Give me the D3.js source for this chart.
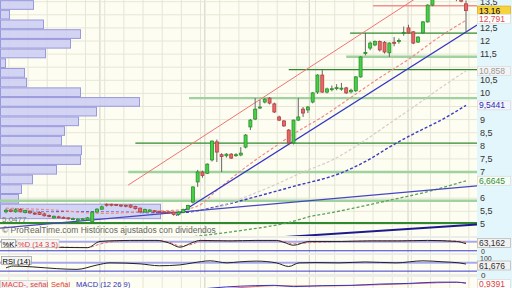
<!DOCTYPE html>
<html><head><meta charset="utf-8">
<script src="https://cdn.jsdelivr.net/npm/d3@7/dist/d3.min.js"></script>
<style>
body{margin:0;background:#fff;}
svg{display:block;font-family:"Liberation Sans",Arial,sans-serif;}
</style></head><body>
<div id="chart"></div>
<script>
// daily candles, oldest first: [open, high, low, close]
const candles = [
  [5.48,5.60,5.42,5.54],[5.55,5.60,5.46,5.49],[5.48,5.62,5.45,5.56],[5.57,5.62,5.46,5.48],
  [5.45,5.56,5.42,5.53],[5.50,5.54,5.40,5.44],[5.43,5.48,5.36,5.40],[5.46,5.50,5.36,5.38],
  [5.40,5.45,5.30,5.33],[5.34,5.38,5.27,5.30],[5.25,5.34,5.22,5.31],[5.29,5.33,5.24,5.27],
  [5.27,5.30,5.22,5.26],[5.25,5.28,5.18,5.23],[5.20,5.26,5.16,5.22],[5.15,5.23,5.12,5.20],
  [5.17,5.24,5.14,5.21],[5.17,5.28,5.14,5.25],[5.10,5.50,5.08,5.47],[5.47,5.62,5.45,5.58],
  [5.58,5.72,5.56,5.67],[5.77,5.80,5.68,5.74],[5.77,5.79,5.69,5.74],[5.76,5.78,5.70,5.73],
  [5.74,5.76,5.66,5.71],[5.73,5.75,5.65,5.70],[5.74,5.76,5.62,5.66],[5.68,5.71,5.57,5.60],
  [5.62,5.64,5.42,5.48],[5.47,5.60,5.45,5.57],[5.50,5.58,5.47,5.55],[5.52,5.55,5.45,5.49],
  [5.49,5.52,5.44,5.47],[5.48,5.51,5.43,5.46],[5.48,5.50,5.41,5.44],[5.47,5.49,5.33,5.38],
  [5.38,5.50,5.33,5.47],[5.45,5.60,5.43,5.57],[5.58,5.75,5.55,5.72],[5.85,6.45,5.80,6.43],
  [6.62,7.08,6.43,7.00],[7.00,7.05,6.78,6.87],[6.95,7.33,6.92,7.30],[7.46,8.20,7.40,8.18],
  [8.15,8.24,7.38,7.76],[7.66,7.72,7.00,7.59],[7.62,7.72,7.55,7.68],[7.68,7.72,7.50,7.53],
  [7.64,7.72,7.58,7.66],[7.65,7.95,7.60,7.72],[7.95,8.45,7.90,8.41],[8.72,9.02,8.60,8.98],
  [9.02,9.82,8.98,9.40],[9.46,9.75,9.40,9.48],[9.67,9.82,9.62,9.78],[9.82,9.86,9.58,9.63],
  [9.60,9.65,9.25,9.29],[9.10,9.15,8.94,8.98],[8.95,8.98,8.72,8.76],[8.60,8.64,8.05,8.11],
  [8.11,9.00,8.05,8.98],[8.98,9.82,8.95,9.10],[9.40,9.48,9.10,9.25],[9.37,9.52,9.25,9.48],
  [9.67,10.05,9.62,10.02],[10.05,10.73,9.98,10.70],[10.70,10.89,10.02,10.05],[10.05,10.22,10.00,10.17],
  [10.17,10.30,10.08,10.18],[10.20,10.35,10.12,10.22],[10.18,10.40,10.10,10.20],[10.21,10.25,9.98,10.02],
  [10.06,10.18,10.00,10.12],[10.10,10.66,10.05,10.63],[10.63,11.42,10.60,11.39],[11.52,12.31,11.45,11.56],
  [11.73,11.98,11.65,11.92],[11.85,12.02,11.80,11.98],[11.98,12.02,11.60,11.66],[11.95,12.00,11.52,11.58],
  [11.55,11.95,11.39,11.92],[11.95,12.15,11.80,11.93],[11.98,12.10,11.90,12.02],[12.30,12.55,12.20,12.33],
  [12.50,12.62,12.28,12.31],[12.35,12.38,11.88,11.92],[11.96,12.18,11.92,12.15],[12.31,12.76,12.28,12.73],
  [12.73,13.40,12.70,13.37],[13.37,13.70,13.33,13.65],[13.65,13.80,13.58,13.75],[13.75,13.85,13.62,13.80],
  [13.80,13.85,13.60,13.72],[13.72,13.82,13.60,13.78],[13.75,13.80,13.52,13.60],[13.62,13.70,13.48,13.52],
  [13.42,13.55,12.35,13.16]
];

// volume by price (left histogram), bucket edges from the top
const profileEdges = [13.56,13.19,12.82,12.45,12.08,11.71,11.34,10.97,10.60,10.23,9.86,9.49,
  9.12,8.75,8.38,8.01,7.64,7.27,6.90,6.53,6.16,5.79,5.20];
const profileVolume = [330,90,430,800,700,450,50,240,260,800,1390,960,780,640,610,810,800,560,320,210,180,1600];

// moving averages: [candle index, value]
const maShort = [[0,5.62],[10,5.55],[20,5.42],[30,5.5],[36,5.55],[40,5.7],[44,6.3],[48,6.9],[52,7.45],
  [56,7.95],[60,8.45],[66,9.1],[72,9.85],[78,10.6],[84,11.3],[90,12.1],[96,12.791]];
const maMid = [[0,5.5],[20,5.45],[30,5.48],[38,5.5],[44,5.65],[50,6.05],[56,6.5],[62,7.0],[68,7.45],
  [74,8.1],[80,8.85],[86,9.6],[91,10.25],[96,10.858]];
const maLong = [[0,5.5],[20,5.47],[36,5.45],[45,5.72],[52,6.05],[60,6.45],[70,6.97],[76,7.5],[80,7.95],
  [85,8.45],[91,9.0],[96,9.5441]];
const maVeryLong = [[30,4.3],[40,4.55],[48,4.74],[60,5.12],[63,5.28],[68,5.45],[80,5.92],[88,6.25],[96,6.6645]];

// trend lines: [startIndex, startPrice, endIndex, endPrice]
const channelTop = [25.5, 6.50, 89, 14.04];
const channelBottom = [35.5, 5.34, 98.3, 12.61];
const longSupport = [-1.3, 4.86, 98.3, 6.47];
const baseSupport = [40, 4.30, 98.3, 5.00];

// horizontal levels: [price, startIndex]
const darkLevels = [[12.30, 71.8], [10.91, 59], [8.10, 27], [5.05, -2]];
const lightLevels = [[11.40, 71], [9.82, 38.2], [7.00, 25.5], [5.90, -2]];
const redLevel = [13.35, 76.6];

const priceTicks = [13.5,13,12.5,12,11.5,11,10.5,10,9.5,9,8.5,8,7.5,7,6.5,6,5.5,5];

// oscillators: [candle index, value]
const stochK = [[0,55],[3,45],[6,35],[10,33],[14,30],[17,29],[19.6,83],[23,90],[26,92],[31.5,92],[34,70],
  [36.3,33],[39,75],[40.5,92],[46.8,88],[52,92],[56.4,92],[58,75],[60,50],[63.3,83],[70,83],[76,88],
  [82,88],[88,92],[94,83],[96,63.162]];
const stochD = [[0,58],[3,50],[6,40],[10,35],[14,32],[17,30],[19.6,60],[23,85],[26,90],[31.5,90],[34,78],
  [36.3,45],[39,60],[40.5,85],[46.8,88],[52,90],[56.4,90],[58,82],[60,62],[63.3,72],[70,82],[76,86],
  [82,87],[88,90],[94,86],[96,75]];
const rsi = [[0,35],[1.5,48],[5.6,42],[10.6,30],[14.8,25],[19,55],[21.7,70],[28,63],[32,50],[36.3,56],
  [39,70],[42.6,84],[46.1,70],[48.8,77],[52.2,82],[56.4,70],[59,45],[61.2,70],[64.7,72],[69.5,70],
  [75,76],[81.4,70],[87,84],[91.2,77],[94.6,70],[96,61.676]];
const macd = [[40,0.55],[46,0.7],[52,0.78],[56,0.8],[60,0.72],[66,0.78],[72,0.8],[78,0.88],[84,0.92],
  [90,1.0],[94,1.0],[96,0.94]];
const macdSignal = [[40,0.45],[46,0.6],[52,0.72],[56,0.78],[60,0.76],[66,0.76],[72,0.79],[78,0.84],
  [84,0.9],[90,0.96],[94,0.99],[96,0.9391]];

const W = 512, H = 288, plotR = 477;
const fmt = v => String(v).replace(".", ",");

const svg = d3.select("#chart").append("svg").attr("width", W).attr("height", H);
svg.append("rect").attr("width", W).attr("height", H).attr("fill", "#ececec");
svg.append("rect").attr("x", plotR).attr("width", W - plotR).attr("height", H).attr("fill", "#e3f6fb");

const x = d3.scaleLinear().domain([0, 96]).range([6, 466]);
const y = d3.scaleLinear().domain([4.557, 13.565]).range([236, 0]);

function panel(top, bottom, id) {
  svg.append("rect").attr("x", 0).attr("y", top).attr("width", plotR).attr("height", bottom - top)
    .attr("fill", "#fdfdf1");
  svg.append("clipPath").attr("id", id).append("rect")
    .attr("x", 0).attr("y", top).attr("width", plotR).attr("height", bottom - top);
  const g = svg.append("g").attr("clip-path", `url(#${id})`);
  // vertical grid
  const vg = g.append("g");
  d3.range(0.6, 100, 4).forEach(i => {
    vg.append("line").attr("x1", x(i)).attr("x2", x(i)).attr("y1", top).attr("y2", bottom)
      .attr("stroke", "#e6e6d8").attr("stroke-width", 1);
  });
  [19.6, 41.5, 63.3, 83.9].forEach(i => {
    vg.append("line").attr("x1", x(i)).attr("x2", x(i)).attr("y1", top).attr("y2", bottom)
      .attr("stroke", "#cfcfc4").attr("stroke-width", 1);
  });
  return g;
}

// ---------- main price panel ----------
const mg = panel(0, 236, "clipMain");
mg.append("g").selectAll("line").data(priceTicks).join("line")
  .attr("x1", 0).attr("x2", plotR).attr("y1", d => y(d)).attr("y2", d => y(d))
  .attr("stroke", "#e6e6d8");

// volume profile
const vx = d3.scaleLinear().domain([0, 1600]).range([0, 160]);
mg.append("g").selectAll("rect").data(profileVolume).join("rect")
  .attr("x", 0.5).attr("y", (d, i) => y(profileEdges[i]) + 0.5)
  .attr("width", d => vx(d))
  .attr("height", (d, i) => y(profileEdges[i + 1]) - y(profileEdges[i]) - 1)
  .attr("fill", "#cbcbf3").attr("fill-opacity", 0.85)
  .attr("stroke", "#9999dd").attr("stroke-width", 1);
mg.append("text").attr("x", 2).attr("y", y(5.08)).attr("font-size", 8).attr("fill", "#777")
  .text("5,0477");

// horizontal levels
const hl = (p, from, color, w) => mg.append("line")
  .attr("x1", x(from)).attr("x2", plotR).attr("y1", y(p)).attr("y2", y(p))
  .attr("stroke", color).attr("stroke-width", w);
lightLevels.forEach(d => hl(d[0], d[1], "#9fd29f", 2.4));
darkLevels.forEach(d => hl(d[0], d[1], "#2f8a2f", d[0] < 6 ? 2 : 1.2));
hl(redLevel[0], redLevel[1], "#f29090", 1.5);

// moving averages
const maLine = d3.line().x(d => x(d[0])).y(d => y(d[1])).curve(d3.curveMonotoneX);
const ma = (data, color, w) => mg.append("path").attr("d", maLine(data)).attr("fill", "none")
  .attr("stroke", color).attr("stroke-width", w).attr("stroke-dasharray", "3,2");
ma(maVeryLong, "#5aa35a", 1.3);
ma(maLong, "#3c3cc4", 1.4);
ma(maMid, "#d8cccc", 1.2);
ma(maShort, "#f08484", 1.1);

// trend lines
const tl = (d, color, w) => mg.append("line")
  .attr("x1", x(d[0])).attr("y1", y(d[1])).attr("x2", x(d[2])).attr("y2", y(d[3]))
  .attr("stroke", color).attr("stroke-width", w);
tl(baseSupport, "#1a1a8c", 2);
tl(longSupport, "#4646c0", 1.2);
tl(channelBottom, "#3434c4", 1.2);
tl(channelTop, "#f07474", 1);

// candles
const cg = mg.append("g");
cg.selectAll("line").data(candles).join("line")
  .attr("x1", (d, i) => x(i)).attr("x2", (d, i) => x(i))
  .attr("y1", d => y(d[1])).attr("y2", d => y(d[2]))
  .attr("stroke", "#666").attr("stroke-width", 1);
cg.selectAll("rect").data(candles).join("rect")
  .attr("x", (d, i) => x(i) - 1.5)
  .attr("y", d => y(Math.max(d[0], d[3])))
  .attr("width", 3)
  .attr("height", d => Math.max(1, Math.abs(y(d[0]) - y(d[3]))))
  .attr("fill", d => d[3] >= d[0] ? "#46d046" : "#e86868")
  .attr("stroke", d => d[3] >= d[0] ? "#2a8f2a" : "#b04040")
  .attr("stroke-width", 0.8);

mg.append("text").attr("x", 2).attr("y", 233).attr("font-size", 8.5).attr("fill", "#666")
  .text("© ProRealTime.com  Históricos ajustados con dividendos");

// price axis with value tags (a tag hides the tick label under it)
const tags = [
  [13.16, "13,16", "#000", "#f6d23c", "#e0b020", 0],
  [12.791, "12,791", "#e05050", "#fff", "#ddd", -1.5],
  [10.858, "10,858", "#9a9a9a", "#f4f4f4", "#ddd", 0],
  [9.5441, "9,5441", "#2c2ca8", "#f4f4ff", "#ddd", 0],
  [6.6645, "6,6645", "#3c8a3c", "#f4fff4", "#ddd", 0]
];
const visibleTicks = priceTicks.filter(t => !tags.some(g => Math.abs(y(t) - y(g[0]) - g[5]) < 6));
svg.append("g").selectAll("text").data(visibleTicks).join("text")
  .attr("x", 480).attr("y", d => y(d) + 3).attr("font-size", 9).attr("fill", "#333")
  .text(d => fmt(d));
const tag = (yy, txt, fill, bg, stroke) => {
  svg.append("rect").attr("x", 477.5).attr("y", yy - 4.5).attr("width", 33).attr("height", 9)
    .attr("fill", bg).attr("stroke", stroke).attr("stroke-width", 0.8);
  svg.append("text").attr("x", 479).attr("y", yy + 3).attr("font-size", 8.5).attr("fill", fill).text(txt);
};
tags.forEach(g => tag(y(g[0]) + g[5], g[1], g[2], g[3], g[4]));

// ---------- stochastic ----------
const sg = panel(238, 253, "clipSto");
const ys = d3.scaleLinear().domain([0, 100]).range([251, 239.5]);
sg.append("line").attr("x1", 0).attr("x2", plotR).attr("y1", ys(80)).attr("y2", ys(80))
  .attr("stroke", "#a8a8ee").attr("stroke-width", 2);
sg.append("line").attr("x1", 0).attr("x2", plotR).attr("y1", ys(2)).attr("y2", ys(2))
  .attr("stroke", "#3a3ad0").attr("stroke-width", 1);
const sLine = d3.line().x(d => x(d[0])).y(d => ys(d[1])).curve(d3.curveMonotoneX);
sg.append("path").attr("d", sLine(stochD)).attr("fill", "none").attr("stroke", "#ee6a6a")
  .attr("stroke-width", 1).attr("stroke-dasharray", "3,2");
sg.append("path").attr("d", sLine(stochK)).attr("fill", "none").attr("stroke", "#222")
  .attr("stroke-width", 1);
svg.append("rect").attr("x", 1.5).attr("y", 239.5).attr("width", 14).attr("height", 8)
  .attr("fill", "#f4f4f4").attr("stroke", "#999").attr("stroke-width", 0.7);
svg.append("text").attr("x", 2.5).attr("y", 246.5).attr("font-size", 7.5).attr("fill", "#000").text("%K");
svg.append("rect").attr("x", 17).attr("y", 239.5).attr("width", 42).attr("height", 8)
  .attr("fill", "#f4f4f4").attr("stroke", "#ccc").attr("stroke-width", 0.7);
svg.append("text").attr("x", 18).attr("y", 246.5).attr("font-size", 7.5).attr("fill", "#e04040").text("%D (14 3 5)");
tag(243, "63,162", "#333", "#f2f2f2", "#bbb");
svg.append("text").attr("x", 481).attr("y", 254).attr("font-size", 7).attr("fill", "#333").text("0");

// ---------- RSI ----------
const rg = panel(255, 274, "clipRsi");
const yr = d3.scaleLinear().domain([0, 100]).range([273, 258.5]);
rg.append("line").attr("x1", 0).attr("x2", plotR).attr("y1", yr(70)).attr("y2", yr(70))
  .attr("stroke", "#a8a8ee").attr("stroke-width", 2);
rg.append("line").attr("x1", 0).attr("x2", plotR).attr("y1", yr(13)).attr("y2", yr(13))
  .attr("stroke", "#3a3ad0").attr("stroke-width", 1);
const rLine = d3.line().x(d => x(d[0])).y(d => yr(d[1])).curve(d3.curveMonotoneX);
rg.append("path").attr("d", rLine(rsi)).attr("fill", "none").attr("stroke", "#222")
  .attr("stroke-width", 1);
svg.append("rect").attr("x", 1.5).attr("y", 256.5).attr("width", 30).attr("height", 8)
  .attr("fill", "#f4f4f4").attr("stroke", "#999").attr("stroke-width", 0.7);
svg.append("text").attr("x", 2.5).attr("y", 263.5).attr("font-size", 7.5).attr("fill", "#000").text("RSI (14)");
svg.append("text").attr("x", 480).attr("y", 260.5).attr("font-size", 7).attr("fill", "#333").text("100");
tag(265.5, "61,676", "#333", "#f2f2f2", "#bbb");
svg.append("text").attr("x", 481).attr("y", 277.5).attr("font-size", 8).attr("fill", "#333").text("0");

// ---------- MACD ----------
const dg = panel(277, 292, "clipMacd");
const yd = d3.scaleLinear().domain([0, 1.2]).range([298, 279]);
const dLine = d3.line().x(d => x(d[0])).y(d => yd(d[1])).curve(d3.curveMonotoneX);
dg.append("path").attr("d", dLine(macdSignal)).attr("fill", "none").attr("stroke", "#e86a6a").attr("stroke-width", 1);
dg.append("path").attr("d", dLine(macd)).attr("fill", "none").attr("stroke", "#3535c8").attr("stroke-width", 1);
svg.append("rect").attr("x", 0.5).attr("y", 280.5).attr("width", 47).attr("height", 8)
  .attr("fill", "#f4f4f4").attr("stroke", "#ccc").attr("stroke-width", 0.7);
svg.append("text").attr("x", 1.5).attr("y", 287).attr("font-size", 7.5).attr("fill", "#e04040").text("MACD-, señal");
svg.append("text").attr("x", 51).attr("y", 287).attr("font-size", 7.5).attr("fill", "#e04040").text("Señal");
svg.append("text").attr("x", 76).attr("y", 287).attr("font-size", 7.5).attr("fill", "#3030c0").text("MACD (12 26 9)");
tag(284, "0,9391", "#e04040", "#fff", "#ddd");
</script>
</body></html>
